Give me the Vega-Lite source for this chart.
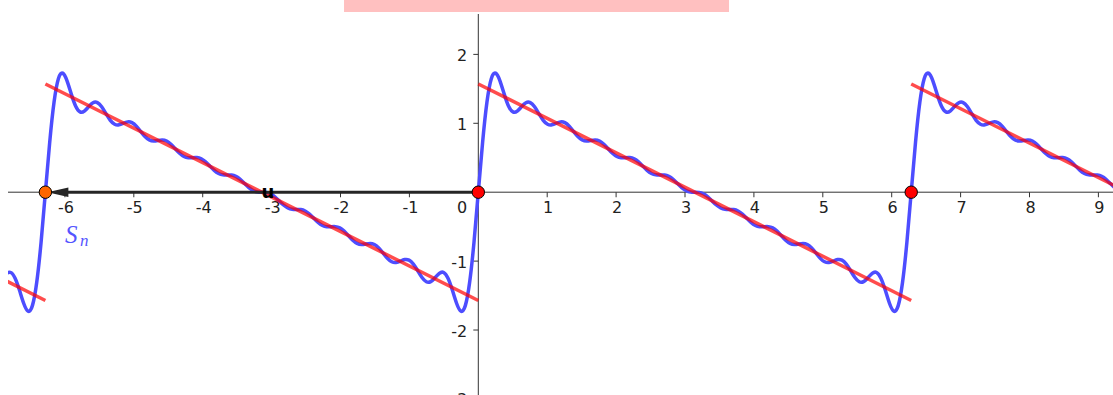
{
"$schema":"https://vega.github.io/schema/vega-lite/v6.json",
"width":1105,"height":381,
"autosize":{"type":"none"},
"padding":{"left":8,"top":14,"right":0,"bottom":0},
"background":"#ffffff",
"config":{"view":{"stroke":null}},
"datasets":{
"curve":[
{"x":-6.8487,"y":-1.177},{"x":-6.7859,"y":-1.1651},{"x":-6.723,"y":-1.2481},{"x":-6.6602,"y":-1.4199},{"x":-6.5974,"y":-1.6154},{"x":-6.5345,"y":-1.7271},{"x":-6.4717,"y":-1.6459},{"x":-6.4089,"y":-1.3079},{"x":-6.346,"y":-0.7276},{"x":-6.2832,"y":0},
{"x":-6.2204,"y":0.7276},{"x":-6.1575,"y":1.3079},{"x":-6.0947,"y":1.6459},{"x":-6.0319,"y":1.7271},{"x":-5.969,"y":1.6154},{"x":-5.9062,"y":1.4199},{"x":-5.8434,"y":1.2481},{"x":-5.7805,"y":1.1651},{"x":-5.7177,"y":1.177},{"x":-5.6549,"y":1.2417},
{"x":-5.592,"y":1.298},{"x":-5.5292,"y":1.3003},{"x":-5.4664,"y":1.2389},{"x":-5.4035,"y":1.1389},{"x":-5.3407,"y":1.043},{"x":-5.2779,"y":0.986},{"x":-5.215,"y":0.9779},{"x":-5.1522,"y":1.0004},{"x":-5.0894,"y":1.0207},{"x":-5.0265,"y":1.01},
{"x":-4.9637,"y":0.9595},{"x":-4.9009,"y":0.8829},{"x":-4.8381,"y":0.8078},{"x":-4.7752,"y":0.7587},{"x":-4.7124,"y":0.7438},{"x":-4.6496,"y":0.7516},{"x":-4.5867,"y":0.7586},{"x":-4.5239,"y":0.7429},{"x":-4.4611,"y":0.6968},{"x":-4.3982,"y":0.6301},
{"x":-4.3354,"y":0.564},{"x":-4.2726,"y":0.5182},{"x":-4.2097,"y":0.5002},{"x":-4.1469,"y":0.5013},{"x":-4.0841,"y":0.502},{"x":-4.0212,"y":0.4839},{"x":-3.9584,"y":0.44},{"x":-3.8956,"y":0.3781},{"x":-3.8327,"y":0.3163},{"x":-3.7699,"y":0.2722},
{"x":-3.7071,"y":0.2526},{"x":-3.6442,"y":0.2504},{"x":-3.5814,"y":0.2482},{"x":-3.5186,"y":0.2292},{"x":-3.4558,"y":0.1863},{"x":-3.3929,"y":0.1264},{"x":-3.3301,"y":0.0664},{"x":-3.2673,"y":0.0228},{"x":-3.2044,"y":0.0027},{"x":-3.1416,"y":0},
{"x":-3.0788,"y":-0.0027},{"x":-3.0159,"y":-0.0228},{"x":-2.9531,"y":-0.0664},{"x":-2.8903,"y":-0.1264},{"x":-2.8274,"y":-0.1863},{"x":-2.7646,"y":-0.2292},{"x":-2.7018,"y":-0.2482},{"x":-2.6389,"y":-0.2504},{"x":-2.5761,"y":-0.2526},{"x":-2.5133,"y":-0.2722},
{"x":-2.4504,"y":-0.3163},{"x":-2.3876,"y":-0.3781},{"x":-2.3248,"y":-0.44},{"x":-2.2619,"y":-0.4839},{"x":-2.1991,"y":-0.502},{"x":-2.1363,"y":-0.5013},{"x":-2.0735,"y":-0.5002},{"x":-2.0106,"y":-0.5182},{"x":-1.9478,"y":-0.564},{"x":-1.885,"y":-0.6301},
{"x":-1.8221,"y":-0.6968},{"x":-1.7593,"y":-0.7429},{"x":-1.6965,"y":-0.7586},{"x":-1.6336,"y":-0.7516},{"x":-1.5708,"y":-0.7438},{"x":-1.508,"y":-0.7587},{"x":-1.4451,"y":-0.8078},{"x":-1.3823,"y":-0.8829},{"x":-1.3195,"y":-0.9595},{"x":-1.2566,"y":-1.01},
{"x":-1.1938,"y":-1.0207},{"x":-1.131,"y":-1.0004},{"x":-1.0681,"y":-0.9779},{"x":-1.0053,"y":-0.986},{"x":-0.9425,"y":-1.043},{"x":-0.8796,"y":-1.1389},{"x":-0.8168,"y":-1.2389},{"x":-0.754,"y":-1.3003},{"x":-0.6912,"y":-1.298},{"x":-0.6283,"y":-1.2417},
{"x":-0.5655,"y":-1.177},{"x":-0.5027,"y":-1.1651},{"x":-0.4398,"y":-1.2481},{"x":-0.377,"y":-1.4199},{"x":-0.3142,"y":-1.6154},{"x":-0.2513,"y":-1.7271},{"x":-0.1885,"y":-1.6459},{"x":-0.1257,"y":-1.3079},{"x":-0.0628,"y":-0.7276},{"x":0,"y":0},
{"x":0.0628,"y":0.7276},{"x":0.1257,"y":1.3079},{"x":0.1885,"y":1.6459},{"x":0.2513,"y":1.7271},{"x":0.3142,"y":1.6154},{"x":0.377,"y":1.4199},{"x":0.4398,"y":1.2481},{"x":0.5027,"y":1.1651},{"x":0.5655,"y":1.177},{"x":0.6283,"y":1.2417},
{"x":0.6912,"y":1.298},{"x":0.754,"y":1.3003},{"x":0.8168,"y":1.2389},{"x":0.8796,"y":1.1389},{"x":0.9425,"y":1.043},{"x":1.0053,"y":0.986},{"x":1.0681,"y":0.9779},{"x":1.131,"y":1.0004},{"x":1.1938,"y":1.0207},{"x":1.2566,"y":1.01},
{"x":1.3195,"y":0.9595},{"x":1.3823,"y":0.8829},{"x":1.4451,"y":0.8078},{"x":1.508,"y":0.7587},{"x":1.5708,"y":0.7438},{"x":1.6336,"y":0.7516},{"x":1.6965,"y":0.7586},{"x":1.7593,"y":0.7429},{"x":1.8221,"y":0.6968},{"x":1.885,"y":0.6301},
{"x":1.9478,"y":0.564},{"x":2.0106,"y":0.5182},{"x":2.0735,"y":0.5002},{"x":2.1363,"y":0.5013},{"x":2.1991,"y":0.502},{"x":2.2619,"y":0.4839},{"x":2.3248,"y":0.44},{"x":2.3876,"y":0.3781},{"x":2.4504,"y":0.3163},{"x":2.5133,"y":0.2722},
{"x":2.5761,"y":0.2526},{"x":2.6389,"y":0.2504},{"x":2.7018,"y":0.2482},{"x":2.7646,"y":0.2292},{"x":2.8274,"y":0.1863},{"x":2.8903,"y":0.1264},{"x":2.9531,"y":0.0664},{"x":3.0159,"y":0.0228},{"x":3.0788,"y":0.0027},{"x":3.1416,"y":0},
{"x":3.2044,"y":-0.0027},{"x":3.2673,"y":-0.0228},{"x":3.3301,"y":-0.0664},{"x":3.3929,"y":-0.1264},{"x":3.4558,"y":-0.1863},{"x":3.5186,"y":-0.2292},{"x":3.5814,"y":-0.2482},{"x":3.6442,"y":-0.2504},{"x":3.7071,"y":-0.2526},{"x":3.7699,"y":-0.2722},
{"x":3.8327,"y":-0.3163},{"x":3.8956,"y":-0.3781},{"x":3.9584,"y":-0.44},{"x":4.0212,"y":-0.4839},{"x":4.0841,"y":-0.502},{"x":4.1469,"y":-0.5013},{"x":4.2097,"y":-0.5002},{"x":4.2726,"y":-0.5182},{"x":4.3354,"y":-0.564},{"x":4.3982,"y":-0.6301},
{"x":4.4611,"y":-0.6968},{"x":4.5239,"y":-0.7429},{"x":4.5867,"y":-0.7586},{"x":4.6496,"y":-0.7516},{"x":4.7124,"y":-0.7438},{"x":4.7752,"y":-0.7587},{"x":4.8381,"y":-0.8078},{"x":4.9009,"y":-0.8829},{"x":4.9637,"y":-0.9595},{"x":5.0265,"y":-1.01},
{"x":5.0894,"y":-1.0207},{"x":5.1522,"y":-1.0004},{"x":5.215,"y":-0.9779},{"x":5.2779,"y":-0.986},{"x":5.3407,"y":-1.043},{"x":5.4035,"y":-1.1389},{"x":5.4664,"y":-1.2389},{"x":5.5292,"y":-1.3003},{"x":5.592,"y":-1.298},{"x":5.6549,"y":-1.2417},
{"x":5.7177,"y":-1.177},{"x":5.7805,"y":-1.1651},{"x":5.8434,"y":-1.2481},{"x":5.9062,"y":-1.4199},{"x":5.969,"y":-1.6154},{"x":6.0319,"y":-1.7271},{"x":6.0947,"y":-1.6459},{"x":6.1575,"y":-1.3079},{"x":6.2204,"y":-0.7276},{"x":6.2832,"y":0},
{"x":6.346,"y":0.7276},{"x":6.4089,"y":1.3079},{"x":6.4717,"y":1.6459},{"x":6.5345,"y":1.7271},{"x":6.5974,"y":1.6154},{"x":6.6602,"y":1.4199},{"x":6.723,"y":1.2481},{"x":6.7859,"y":1.1651},{"x":6.8487,"y":1.177},{"x":6.9115,"y":1.2417},
{"x":6.9743,"y":1.298},{"x":7.0372,"y":1.3003},{"x":7.1,"y":1.2389},{"x":7.1628,"y":1.1389},{"x":7.2257,"y":1.043},{"x":7.2885,"y":0.986},{"x":7.3513,"y":0.9779},{"x":7.4142,"y":1.0004},{"x":7.477,"y":1.0207},{"x":7.5398,"y":1.01},
{"x":7.6027,"y":0.9595},{"x":7.6655,"y":0.8829},{"x":7.7283,"y":0.8078},{"x":7.7912,"y":0.7587},{"x":7.854,"y":0.7438},{"x":7.9168,"y":0.7516},{"x":7.9796,"y":0.7586},{"x":8.0425,"y":0.7429},{"x":8.1053,"y":0.6968},{"x":8.1681,"y":0.6301},
{"x":8.231,"y":0.564},{"x":8.2938,"y":0.5182},{"x":8.3566,"y":0.5002},{"x":8.4195,"y":0.5013},{"x":8.4823,"y":0.502},{"x":8.5451,"y":0.4839},{"x":8.608,"y":0.44},{"x":8.6708,"y":0.3781},{"x":8.7336,"y":0.3163},{"x":8.7965,"y":0.2722},
{"x":8.8593,"y":0.2526},{"x":8.9221,"y":0.2504},{"x":8.985,"y":0.2482},{"x":9.0478,"y":0.2292},{"x":9.1106,"y":0.1863},{"x":9.1735,"y":0.1264},{"x":9.2363,"y":0.0664}
],
"saw":[
{"x":-6.9,"y":-1.2624,"s":"a"},{"x":-6.28319,"y":-1.5708,"s":"a"},
{"x":-6.28319,"y":1.5708,"s":"b"},{"x":0,"y":-1.5708,"s":"b"},
{"x":0,"y":1.5708,"s":"c"},{"x":6.28319,"y":-1.5708,"s":"c"},
{"x":6.28319,"y":1.5708,"s":"d"},{"x":9.3,"y":0.0624,"s":"d"}
],
"axes":[{"x":-7,"y":0,"x2":10,"y2":0},{"x":0,"y":-3.5,"x2":0,"y2":3}],
"vec":[{"x":-6.1,"y":0,"x2":0,"y2":0}],
"head":[{"x":-6.102,"y":0}],
"xt":[{"x":-6,"y":0,"t":"-6"},{"x":-5,"y":0,"t":"-5"},{"x":-4,"y":0,"t":"-4"},{"x":-3,"y":0,"t":"-3"},{"x":-2,"y":0,"t":"-2"},{"x":-1,"y":0,"t":"-1"},{"x":1,"y":0,"t":"1"},{"x":2,"y":0,"t":"2"},{"x":3,"y":0,"t":"3"},{"x":4,"y":0,"t":"4"},{"x":5,"y":0,"t":"5"},{"x":6,"y":0,"t":"6"},{"x":7,"y":0,"t":"7"},{"x":8,"y":0,"t":"8"},{"x":9,"y":0,"t":"9"}],
"yt":[{"x":0,"y":2,"t":"2"},{"x":0,"y":1,"t":"1"},{"x":0,"y":-1,"t":"-1"},{"x":0,"y":-2,"t":"-2"},{"x":0,"y":-3,"t":"-3"}],
"zero":[{"x":0,"y":0,"t":"0"}],
"pts":[{"x":-6.28319,"y":0,"p":"B"},{"x":0,"y":0,"p":"A"},{"x":6.28319,"y":0,"p":"A"}],
"lblS":[{"x":-5.999,"y":-0.742,"t":"S"}],
"lbln":[{"x":-5.781,"y":-0.774,"t":"n"}],
"lblu":[{"x":-3.053,"y":-0.084,"t":"u"}],
"box":[{"x":-1.949,"y":2.79,"x2":3.639,"y2":2.615}]
},
"encoding":{
"x":{"field":"x","type":"quantitative","scale":{"domain":[-6.826,9.212],"nice":false,"zero":false},"axis":null},
"y":{"field":"y","type":"quantitative","scale":{"domain":[-2.943,2.586],"nice":false,"zero":false},"axis":null}
},
"layer":[
{"data":{"name":"box"},"mark":{"type":"rect","color":"#ffc0c0","clip":false},"encoding":{"x2":{"field":"x2"},"y2":{"field":"y2"}}},
{"data":{"name":"axes"},"mark":{"type":"rule","color":"#333333","strokeWidth":1,"clip":true},"encoding":{"x2":{"field":"x2"},"y2":{"field":"y2"}}},
{"data":{"name":"xt"},"mark":{"type":"tick","orient":"vertical","size":5,"thickness":1,"yOffset":2.5,"color":"#333333","opacity":1,"clip":true}},
{"data":{"name":"yt"},"mark":{"type":"tick","orient":"horizontal","size":5,"thickness":1,"xOffset":-2.5,"color":"#333333","opacity":1,"clip":true}},
{"data":{"name":"xt"},"mark":{"type":"text","dy":15.5,"dx":1,"fontSize":16,"font":"DejaVu Sans","color":"#222222","align":"center","baseline":"middle","clip":true},"encoding":{"text":{"field":"t"}}},
{"data":{"name":"yt"},"mark":{"type":"text","dy":1.5,"dx":-11,"fontSize":16,"font":"DejaVu Sans","color":"#222222","align":"right","baseline":"middle","clip":true},"encoding":{"text":{"field":"t"}}},
{"data":{"name":"zero"},"mark":{"type":"text","dy":15.5,"dx":-11,"fontSize":16,"font":"DejaVu Sans","color":"#222222","align":"right","baseline":"middle","clip":true},"encoding":{"text":{"field":"t"}}},
{"data":{"name":"curve"},"mark":{"type":"line","color":"#4d4dff","strokeWidth":3.5,"interpolate":"natural","clip":true}},
{"data":{"name":"saw"},"mark":{"type":"line","color":"#ff0000","opacity":0.7,"strokeWidth":3.5,"clip":true},"encoding":{"detail":{"field":"s"}}},
{"data":{"name":"vec"},"mark":{"type":"rule","color":"#262626","strokeWidth":3,"clip":true},"encoding":{"x2":{"field":"x2"},"y2":{"field":"y2"}}},
{"data":{"name":"head"},"mark":{"type":"point","shape":"M-1,0L1,-0.45L1,0.45Z","size":441,"filled":true,"color":"#262626","opacity":1,"clip":true}},
{"data":{"name":"pts"},"mark":{"type":"point","shape":"circle","filled":true,"size":154,"stroke":"#000000","strokeWidth":1,"opacity":1,"clip":true},"encoding":{"fill":{"field":"p","type":"nominal","scale":{"domain":["A","B"],"range":["#ff0000","#ff6600"]},"legend":null}}},
{"data":{"name":"lblS"},"mark":{"type":"text","font":"Liberation Serif","fontStyle":"italic","fontSize":25,"color":"#5555ff","align":"left","baseline":"alphabetic","clip":true},"encoding":{"text":{"field":"t"}}},
{"data":{"name":"lbln"},"mark":{"type":"text","font":"Liberation Serif","fontStyle":"italic","fontSize":17,"color":"#5555ff","align":"left","baseline":"alphabetic","clip":true},"encoding":{"text":{"field":"t"}}},
{"data":{"name":"lblu"},"mark":{"type":"text","font":"DejaVu Sans","fontWeight":"bold","fontSize":18,"color":"#000000","align":"center","baseline":"alphabetic","clip":true},"encoding":{"text":{"field":"t"}}}
]
}
